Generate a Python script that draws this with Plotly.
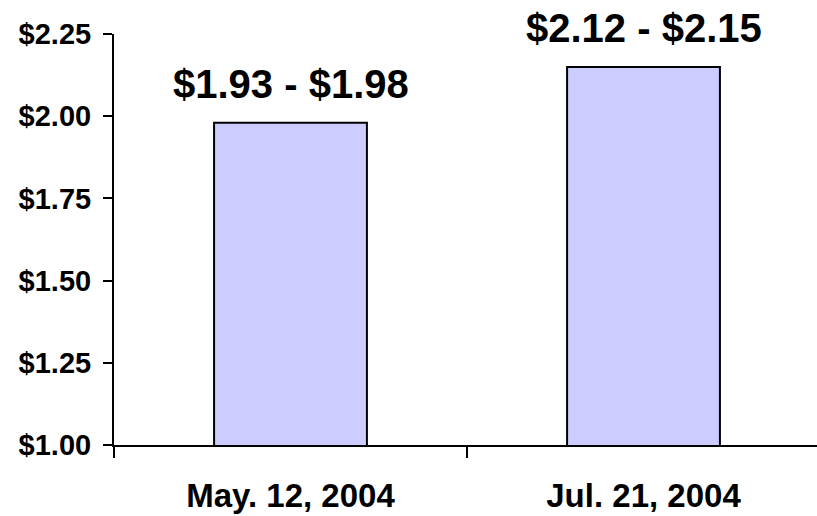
import plotly.graph_objects as go

categories = ["May. 12, 2004", "Jul. 21, 2004"]
high_values = [1.98, 2.15]
range_labels = ["$1.93 - $1.98", "$2.12 - $2.15"]
y_ticks = [1.00, 1.25, 1.50, 1.75, 2.00, 2.25]

FONT = "Liberation Sans, Arial, sans-serif"

fig = go.Figure()
fig.add_trace(go.Bar(
    x=categories,
    y=high_values,
    marker=dict(color="#CCCCFF", line=dict(color="black", width=2)),
    hoverinfo="skip",
))

for c, v, lab in zip(categories, high_values, range_labels):
    fig.add_annotation(
        x=c, y=v, text="<b>" + lab + "</b>", showarrow=False,
        yanchor="bottom", yshift=15,
        font=dict(family=FONT, size=40, color="black"),
    )

fig.update_layout(
    width=817, height=516,
    margin=dict(l=114, r=0, t=34, b=71, pad=0),
    paper_bgcolor="white", plot_bgcolor="white",
    bargap=0.567,
    showlegend=False,
    font=dict(family=FONT, color="black"),
)
fig.update_xaxes(
    type="category",
    range=[-0.5, 1.4915],
    automargin=False,
    showline=True, linecolor="black", linewidth=2,
    ticks="outside", tickson="boundaries", ticklen=11, tickwidth=2, tickcolor="black",
    tickfont=dict(family=FONT, size=33, color="black"),
    ticklabelstandoff=20,
    tickprefix="<b>", ticksuffix="</b>",
    showgrid=False, zeroline=False,
)
fig.update_yaxes(
    range=[1.0, 2.25],
    automargin=False,
    tickvals=y_ticks,
    ticktext=["<b>$%.2f</b>" % v for v in y_ticks],
    showline=True, linecolor="black", linewidth=2,
    ticks="outside", ticklen=9, tickwidth=2, tickcolor="black",
    tickfont=dict(family=FONT, size=29, color="black"),
    ticklabelstandoff=6,
    showgrid=False, zeroline=False,
)

fig.write_html(
    "out.html",
    config={"displayModeBar": False},
    post_script="document.body.style.margin='0';document.body.style.padding='0';",
)
